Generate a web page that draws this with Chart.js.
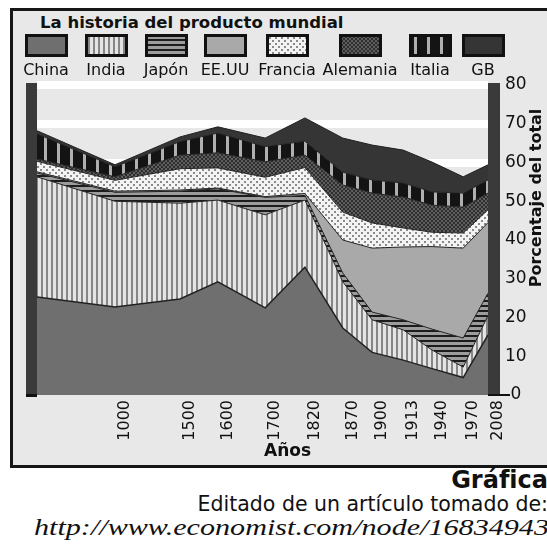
<!DOCTYPE html>
<html lang="es">
<head>
<meta charset="utf-8">
<title>La historia del producto mundial</title>
<script src="https://cdn.jsdelivr.net/npm/chart.js@4.4.1/dist/chart.umd.min.js"></script>
<style>
  html, body { margin: 0; padding: 0; background: #fff; width: 547px; height: 547px; overflow: hidden;
    font-family: 'DejaVu Sans', Verdana, sans-serif; color: #111; }
  #marco { position: absolute; left: 10px; top: 8px; width: 560px; height: 454px;
    background: #e8e8e8; border: 3px solid #161616; }
  #titulo { position: absolute; left: 40px; top: 13px; font-weight: bold; font-size: 16.5px; white-space: nowrap; }
  .item { position: absolute; top: 34px; width: 90px; text-align: center; font-size: 16px; line-height: 16px; }
  .item canvas { display: block; margin: 0 auto 5px auto; }
  #caja { position: absolute; left: 13px; top: 70px; width: 534px; height: 392px; }
  .pie { position: absolute; right: -1px; white-space: nowrap; }
  #p1 { top: 466px; font-weight: bold; font-size: 24px; }
  #p2 { top: 492px; font-size: 20.5px; }
  #p3 { top: 515px; left: 34px; right: auto; font-family: 'Liberation Serif', 'Times New Roman', serif;
    font-style: italic; font-size: 23px; transform: scaleX(1.31); transform-origin: 0 0; }
</style>
</head>
<body>
<div id="marco"></div>
<div id="titulo">La historia del producto mundial</div>
<div id="leyenda"></div>
<div id="caja"><canvas id="grafico"></canvas></div>
<div class="pie" id="p1">Gráfica</div>
<div class="pie" id="p2">Editado de un artículo tomado de:</div>
<div class="pie" id="p3">http://www.economist.com/node/16834943</div>

<script>
// años (el primero no lleva etiqueta en el original)
const anios = ['1', '1000', '1500', '1600', '1700', '1820', '1870', '1900', '1913', '1940', '1970', '2008'];
// el eje del original no es uniforme: posición de cada año a lo largo del eje (0-100)
const posicionEje = [0, 17.3, 31.7, 40.1, 50.6, 59.4, 67.8, 74.3, 81.2, 87.6, 94.5, 100];

// porcentaje del producto mundial (apilado)
const china    = [25.3, 22.7, 24.8, 29.2, 22.5, 33.0, 17.3, 11.0, 9.0, 6.8, 4.5, 15.5];
const india    = [31.0, 27.3, 24.7, 21.1, 24.0, 17.3, 11.9, 8.4, 7.8, 4.8, 2.7, 5.0];
const japon    = [1.0, 2.3, 3.1, 2.9, 4.5, 1.2, 2.3, 2.0, 2.6, 5.4, 7.5, 5.8];
const eeuu     = [0.3, 0.3, 0.3, 0.2, 0.2, 0.5, 8.5, 16.5, 18.8, 21.3, 23.2, 18.2];
const francia  = [2.7, 2.8, 5.5, 5.2, 5.0, 6.7, 7.2, 6.5, 4.9, 3.7, 3.9, 3.3];
const alemania = [0.6, 0.9, 3.5, 3.9, 4.0, 3.2, 7.0, 7.7, 8.0, 7.0, 6.7, 4.3];
const italia   = [6.5, 2.6, 3.5, 5.1, 3.9, 3.6, 3.3, 3.4, 3.6, 3.4, 3.6, 3.4];
const gb       = [0.8, 0.5, 1.2, 1.6, 2.2, 6.0, 8.8, 9.0, 8.5, 7.7, 4.2, 3.9];

const paises = ['China', 'India', 'Japón', 'EE.UU', 'Francia', 'Alemania', 'Italia', 'GB'];
const series = [china, india, japon, eeuu, francia, alemania, italia, gb];
const rellenos = ['#6f6f6f', 'rayasV', 'rayasH', '#a9a9a9', 'puntos', 'cuadros', 'barrotes', '#353535'];
const centrosLeyenda = [46, 106, 166, 225, 287, 360, 430, 483];

// tramas en escala de grises
function crearRelleno(ctx, tipo) {
  if (tipo[0] === '#') return tipo;
  const c = document.createElement('canvas');
  const g = c.getContext('2d');
  if (tipo === 'rayasV') {
    c.width = 5; c.height = 1;
    g.fillStyle = '#e4e4e4'; g.fillRect(0, 0, 5, 1);
    g.fillStyle = '#868686'; g.fillRect(3, 0, 2, 1);
  } else if (tipo === 'rayasH') {
    c.width = 1; c.height = 5;
    g.fillStyle = '#9c9c9c'; g.fillRect(0, 0, 1, 5);
    g.fillStyle = '#1c1c1c'; g.fillRect(0, 0, 1, 2);
  } else if (tipo === 'puntos') {
    c.width = 6; c.height = 6;
    g.fillStyle = '#f3f3f3'; g.fillRect(0, 0, 6, 6);
    g.fillStyle = '#8a8a8a'; g.fillRect(0, 0, 2, 2); g.fillRect(3, 3, 2, 2);
  } else if (tipo === 'cuadros') {
    c.width = 4; c.height = 4;
    g.fillStyle = '#5e5e5e'; g.fillRect(0, 0, 4, 4);
    g.fillStyle = '#2e2e2e'; g.fillRect(0, 0, 2, 2); g.fillRect(2, 2, 2, 2);
  } else if (tipo === 'barrotes') {
    c.width = 13; c.height = 1;
    g.fillStyle = '#141414'; g.fillRect(0, 0, 13, 1);
    g.fillStyle = '#b0b0b0'; g.fillRect(5, 0, 3, 1);
  }
  return ctx.createPattern(c, 'repeat');
}

const ctx = document.getElementById('grafico').getContext('2d');

// paredes laterales, marca del cero y títulos de los ejes
const decoracion = {
  id: 'decoracion',
  afterDraw(chart) {
    const { ctx, chartArea: a } = chart;
    ctx.save();
    ctx.fillStyle = '#3a3a3a';
    ctx.fillRect(a.left - 11, a.top - 2, 11, a.bottom - a.top + 3);
    ctx.fillRect(a.right, a.top - 2, 12, a.bottom - a.top + 2);
    ctx.fillStyle = '#111';
    ctx.fillRect(a.left - 11, a.bottom - 1, 11, 3);
    ctx.strokeStyle = '#111';
    ctx.lineWidth = 2;
    ctx.beginPath();
    ctx.moveTo(a.right, a.bottom);
    ctx.lineTo(a.right + 22, a.bottom);
    ctx.stroke();

    ctx.fillStyle = '#111';
    ctx.textAlign = 'center';
    ctx.textBaseline = 'middle';
    ctx.font = 'bold 17px "DejaVu Sans"';
    ctx.fillText('Años', (a.left + a.right) / 2 + 25, a.bottom + 57);
    ctx.translate(a.right + 49, a.top + 113);
    ctx.rotate(-Math.PI / 2);
    ctx.font = 'bold 16px "DejaVu Sans"';
    ctx.fillText('Porcentaje del total', 0, 0);
    ctx.restore();
  }
};

const chart = new Chart(ctx, {
  type: 'line',
  data: {
    datasets: paises.map((pais, i) => ({
      label: pais,
      data: posicionEje.map((p, j) => ({ x: p, y: series[i][j] })),
      backgroundColor: crearRelleno(ctx, rellenos[i]),
      borderColor: '#222',
      borderWidth: i === 0 ? 1.5 : 1,
      fill: i === 0 ? 'origin' : '-1',
      pointRadius: 0,
      tension: 0
    }))
  },
  options: {
    responsive: true,
    maintainAspectRatio: false,
    animation: false,
    layout: { padding: { left: 24, top: 15, right: 0, bottom: 0 } },
    plugins: { legend: { display: false }, tooltip: { enabled: false } },
    scales: {
      x: {
        type: 'linear',
        min: 0,
        max: 100,
        afterBuildTicks: scale => { scale.ticks = posicionEje.map(v => ({ value: v })); },
        afterFit: scale => {
          scale.height = 67;
          scale.paddingLeft = 0;
          scale.paddingRight = 0;
        },
        grid: { display: false, drawTicks: false },
        border: { display: false },
        ticks: {
          autoSkip: false,
          minRotation: 90,
          maxRotation: 90,
          padding: 5,
          labelOffset: 10,
          color: '#111',
          font: { family: 'DejaVu Sans', size: 16 },
          callback: (v, i) => (i === 0 ? '' : anios[i])
        }
      },
      y: {
        position: 'right',
        stacked: true,
        min: 0,
        max: 80,
        afterFit: scale => {
          scale.width = 59;
          scale.paddingTop = 0;
          scale.paddingBottom = 0;
        },
        grid: {
          drawTicks: false,
          lineWidth: 8,
          color: c => (c.tick && c.tick.value === 0 ? 'rgba(0,0,0,0)' : '#ffffff')
        },
        border: { display: false },
        ticks: {
          stepSize: 10,
          padding: 17,
          crossAlign: 'center',
          color: '#111',
          font: { family: 'DejaVu Sans', size: 17 }
        }
      }
    }
  },
  plugins: [decoracion]
});

// leyenda: cuadro con la trama y el nombre debajo
const leyenda = document.getElementById('leyenda');
chart.data.datasets.forEach((ds, i) => {
  const item = document.createElement('div');
  item.className = 'item';
  item.style.left = (centrosLeyenda[i] - 45) + 'px';
  const c = document.createElement('canvas');
  c.width = 43; c.height = 23;
  const g = c.getContext('2d');
  g.fillStyle = '#111';
  g.fillRect(0, 0, 43, 23);
  g.fillStyle = crearRelleno(g, rellenos[i]);
  g.fillRect(3, 3, 37, 17);
  item.appendChild(c);
  item.appendChild(document.createTextNode(ds.label));
  leyenda.appendChild(item);
});
</script>
</body>
</html>
